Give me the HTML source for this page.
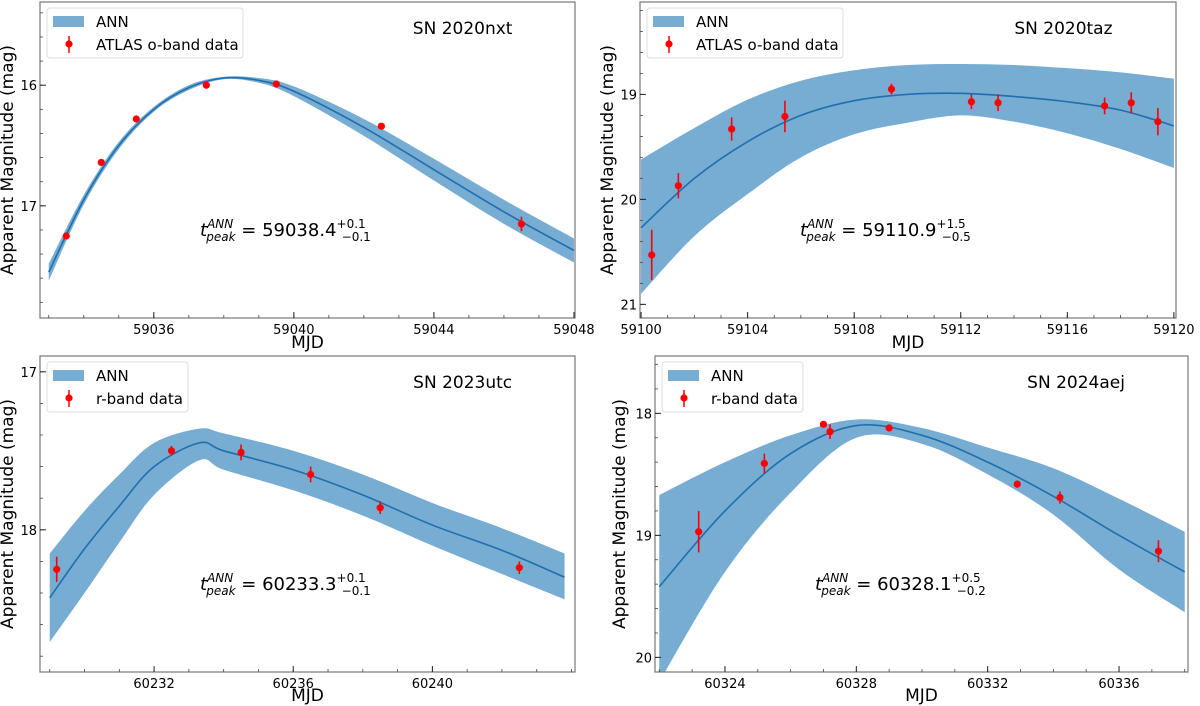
<!DOCTYPE html>
<html><head><meta charset="utf-8">
<style>
html,body{margin:0;padding:0;background:#fff;}
svg{display:block;font-family:"DejaVu Sans","Liberation Sans",sans-serif;}
</style></head>
<body>
<svg id="fig" width="1200" height="706" viewBox="0 0 1200 706" xmlns="http://www.w3.org/2000/svg"></svg>
<script>
// ---- Panel 1: SN 2020nxt ----
const p1CurveX = [59033,59034,59035,59036,59037,59038,59039,59040,59042,59044,59046,59048];
const p1CurveMid = [17.55,16.95,16.5,16.2,16.02,15.94,15.96,16.05,16.35,16.7,17.05,17.37];
const p1CurveErr = [0.07,0.04,0.03,0.02,0.02,0.01,0.02,0.04,0.07,0.09,0.1,0.1];
const p1DataX = [59033.5,59034.5,59035.5,59037.5,59039.5,59042.5,59046.5];
const p1DataY = [17.25,16.64,16.28,16.0,15.99,16.34,17.15];
const p1DataErr = [0.01,0.01,0.01,0.01,0.01,0.01,0.06];
const p1XTicks = [59036,59040,59044,59048];
const p1YTicks = [16,17];
// ---- Panel 2: SN 2020taz ----
const p2CurveX = [59100,59102,59104,59106,59108,59110,59112,59114,59116,59118,59120];
const p2CurveMid = [20.27,19.8,19.45,19.2,19.06,19.0,18.99,19.02,19.07,19.15,19.3];
const p2CurveLo = [19.62,19.32,19.05,18.87,18.77,18.72,18.71,18.72,18.75,18.79,18.85];
const p2CurveHi = [20.9,20.35,19.95,19.6,19.38,19.27,19.2,19.26,19.37,19.52,19.7];
const p2DataX = [59100.4,59101.4,59103.4,59105.4,59109.4,59112.4,59113.4,59117.4,59118.4,59119.4];
const p2DataY = [20.53,19.87,19.33,19.21,18.95,19.07,19.08,19.11,19.08,19.26];
const p2DataErr = [0.24,0.12,0.11,0.15,0.05,0.07,0.08,0.08,0.1,0.13];
const p2XTicks = [59100,59104,59108,59112,59116,59120];
const p2YTicks = [19,20,21];
// ---- Panel 3: SN 2023utc ----
const p3CurveX = [60229,60230,60231,60232,60233.3,60234,60236,60238,60240,60242,60243.8];
const p3CurveMid = [18.43,18.12,17.85,17.6,17.45,17.5,17.62,17.78,17.97,18.13,18.3];
const p3CurveLo = [18.15,17.88,17.65,17.45,17.36,17.39,17.5,17.65,17.83,17.99,18.15];
const p3CurveHi = [18.71,18.4,18.08,17.78,17.56,17.62,17.75,17.91,18.1,18.28,18.44];
const p3DataX = [60229.2,60232.5,60234.5,60236.5,60238.5,60242.5];
const p3DataY = [18.25,17.5,17.51,17.65,17.86,18.24];
const p3DataErr = [0.08,0.03,0.05,0.05,0.04,0.04];
const p3XTicks = [60232,60236,60240];
const p3YTicks = [17,18];
// ---- Panel 4: SN 2024aej ----
const p4CurveX = [60322,60324,60326,60328,60330,60332,60334,60336,60338];
const p4CurveMid = [19.42,18.8,18.33,18.1,18.18,18.4,18.68,19.0,19.3];
const p4CurveLo = [18.67,18.4,18.18,18.05,18.12,18.28,18.45,18.7,18.97];
const p4CurveHi = [20.2,19.3,18.65,18.2,18.25,18.5,18.83,19.28,19.63];
const p4DataX = [60323.2,60325.2,60327.0,60327.2,60329.0,60332.9,60334.2,60337.2];
const p4DataY = [18.97,18.41,18.09,18.15,18.12,18.58,18.69,19.13];
const p4DataErr = [0.17,0.08,0.02,0.06,0.02,0.03,0.05,0.09];
const p4XTicks = [60324,60328,60332,60336];
const p4YTicks = [18,19,20];

const NS="http://www.w3.org/2000/svg";
const svg=document.getElementById('fig');
function mk(tag,attrs,parent){const e=document.createElementNS(NS,tag);for(const k in attrs)e.setAttribute(k,attrs[k]);(parent||svg).appendChild(e);return e;}
function smooth(pts){let d='M'+pts[0][0]+','+pts[0][1];for(let i=0;i<pts.length-1;i++){const p0=pts[Math.max(0,i-1)],p1=pts[i],p2=pts[i+1],p3=pts[Math.min(pts.length-1,i+2)];const c1x=p1[0]+(p2[0]-p0[0])/6,c1y=p1[1]+(p2[1]-p0[1])/6,c2x=p2[0]-(p3[0]-p1[0])/6,c2y=p2[1]-(p3[1]-p1[1])/6;d+=' C'+c1x+','+c1y+' '+c2x+','+c2y+' '+p2[0]+','+p2[1];}return d;}
function smoothCont(pts){return smooth(pts).replace(/^M/,'L');}

function panel(o){
  const g=mk('g',{});
  
  
  const X=v=>o.L+(v-o.x0)/(o.x1-o.x0)*(o.R-o.L);
  const Y=v=>o.T+(v-o.y0)/(o.y1-o.y0)*(o.B-o.T);
  const cid='clip-'+o.name;
  const cp=mk('clipPath',{id:cid},g);mk('rect',{x:o.L,y:o.T,width:o.R-o.L,height:o.B-o.T},cp);
  const pg=mk('g',{'clip-path':'url(#'+cid+')'},g);
  const lo=o.cx.map((x,i)=>[X(x),Y(o.lo[i])]);
  const hi=o.cx.map((x,i)=>[X(x),Y(o.hi[i])]).reverse();
  const band=mk('path',{d:smooth(lo)+' L'+hi[0][0]+','+hi[0][1]+smoothCont(hi)+' Z',fill:'#77acd3',stroke:'none'},pg);
  
  
  const line=mk('path',{d:smooth(o.cx.map((x,i)=>[X(x),Y(o.mid[i])])),fill:'none',stroke:'#1f6fae','stroke-width':1.6},pg);
  
  
  o.dx.forEach((x,i)=>{
    const eb=mk('line',{x1:X(x),x2:X(x),y1:Y(o.dy[i]-o.de[i]),y2:Y(o.dy[i]+o.de[i]),stroke:'#ff0000','stroke-width':1.6},pg);
    
    
    const c=mk('circle',{cx:X(x),cy:Y(o.dy[i]),r:3.6,fill:'#ff0000'},pg);
    
    
  });
  const fr=mk('rect',{x:o.L,y:o.T,width:o.R-o.L,height:o.B-o.T,fill:'none',stroke:'#777','stroke-width':1.2},g);
  
  
  for(let v=Math.ceil(o.x0);v<=o.x1;v+=o.xminor){const px=X(v);mk('line',{x1:px,x2:px,y1:o.B,y2:o.B-3,stroke:'#444','stroke-width':0.8},g);}
  o.xt.forEach(v=>{const px=X(v);mk('line',{x1:px,x2:px,y1:o.B,y2:o.B-6,stroke:'#222','stroke-width':1},g);
    const t=mk('text',{x:px,y:o.B+16,'font-size':13,'text-anchor':'middle',fill:'#000'},g);t.textContent=v;
    
    });
  for(let v=Math.ceil(o.y0/o.yminor)*o.yminor;v<=o.y1+1e-9;v+=o.yminor){const py=Y(v);mk('line',{x1:o.L,x2:o.L+3,y1:py,y2:py,stroke:'#444','stroke-width':0.8},g);}
  o.yt.forEach(v=>{const py=Y(v);mk('line',{x1:o.L,x2:o.L+6,y1:py,y2:py,stroke:'#222','stroke-width':1},g);
    const t=mk('text',{x:o.L-3,y:py+5,'font-size':13,'text-anchor':'end',fill:'#000'},g);t.textContent=v;
    
    });
  const xl=mk('text',{x:(o.L+o.R)/2,y:o.B+o.xly,'font-size':17,'text-anchor':'middle'},g);xl.textContent='MJD';
  
  
  const yc=(o.T+o.B)/2;
  const yl=mk('text',{x:o.ylx,y:yc,'font-size':17,'text-anchor':'middle',transform:'rotate(-90 '+o.ylx+' '+yc+')'},g);yl.textContent='Apparent Magnitude (mag)';
  
  
  const lg=mk('g',{},g);
  
  
  mk('rect',{x:o.L+7,y:o.T+6,width:o.lw,height:50,rx:3,fill:'#fff',stroke:'#ddd','stroke-width':1},lg);
  mk('rect',{x:o.L+13,y:o.T+14,width:31,height:11,fill:'#77acd3'},lg);
  const t1=mk('text',{x:o.L+56,y:o.T+25,'font-size':15},lg);t1.textContent='ANN';
  
  
  mk('line',{x1:o.L+29,x2:o.L+29,y1:o.T+34,y2:o.T+51,stroke:'#f00','stroke-width':1.5},lg);
  mk('circle',{cx:o.L+29,cy:o.T+42,r:3.6,fill:'#f00'},lg);
  const t2=mk('text',{x:o.L+56,y:o.T+48,'font-size':15},lg);t2.textContent=o.leg;
  
  
  const ti=mk('text',{x:o.L+(o.R-o.L)*0.79,y:o.T+32,'font-size':17,'text-anchor':'middle'},g);ti.textContent=o.title;
  
  
  const an=mk('text',{x:o.L+160,y:o.T+234,'font-size':18},g);
  
  
  an.innerHTML='<tspan font-style="italic">t</tspan><tspan font-style="italic" font-size="12" dy="-8">ANN</tspan><tspan font-style="italic" font-size="12" dx="-27" dy="13">peak</tspan><tspan dy="-5"> = '+o.tp+'</tspan><tspan font-size="12" dy="-8">'+o.tu+'</tspan><tspan font-size="12" dx="-24" dy="13">'+o.tl+'</tspan>';
}

panel({name:'panel-sn2020nxt',L:40,R:575,T:2,B:318,x0:59032.75,x1:59048.03,y0:15.31,y1:17.93,
 cx:p1CurveX,mid:p1CurveMid,lo:p1CurveMid.map((m,i)=>m-p1CurveErr[i]),hi:p1CurveMid.map((m,i)=>m+p1CurveErr[i]),
 dx:p1DataX,dy:p1DataY,de:p1DataErr,xt:p1XTicks,yt:p1YTicks,xminor:1,yminor:0.2,ylx:13,lw:196,xly:30,
 leg:'ATLAS o-band data',title:'SN 2020nxt',tp:'59038.4',tu:'+0.1',tl:'\u22120.1'});
panel({name:'panel-sn2020taz',L:640,R:1176,T:2,B:318,x0:59099.96,x1:59120.08,y0:18.12,y1:21.13,
 cx:p2CurveX,mid:p2CurveMid,lo:p2CurveLo,hi:p2CurveHi,
 dx:p2DataX,dy:p2DataY,de:p2DataErr,xt:p2XTicks,yt:p2YTicks,xminor:1,yminor:0.2,ylx:613,lw:196,xly:30,
 leg:'ATLAS o-band data',title:'SN 2020taz',tp:'59110.9',tu:'+1.5',tl:'\u22120.5'});
panel({name:'panel-sn2023utc',L:40,R:575,T:356,B:672,x0:60228.72,x1:60244.1,y0:16.9,y1:18.9,
 cx:p3CurveX,mid:p3CurveMid,lo:p3CurveLo,hi:p3CurveHi,
 dx:p3DataX,dy:p3DataY,de:p3DataErr,xt:p3XTicks,yt:p3YTicks,xminor:1,yminor:0.2,ylx:13,lw:141,xly:29,
 leg:'r-band data',title:'SN 2023utc',tp:'60233.3',tu:'+0.1',tl:'\u22120.1'});
panel({name:'panel-sn2024aej',L:655,R:1188,T:356,B:672,x0:60321.87,x1:60338.1,y0:17.53,y1:20.12,
 cx:p4CurveX,mid:p4CurveMid,lo:p4CurveLo,hi:p4CurveHi,
 dx:p4DataX,dy:p4DataY,de:p4DataErr,xt:p4XTicks,yt:p4YTicks,xminor:1,yminor:0.2,ylx:625,lw:141,xly:29,
 leg:'r-band data',title:'SN 2024aej',tp:'60328.1',tu:'+0.5',tl:'\u22120.2'});
</script>
</body></html>
